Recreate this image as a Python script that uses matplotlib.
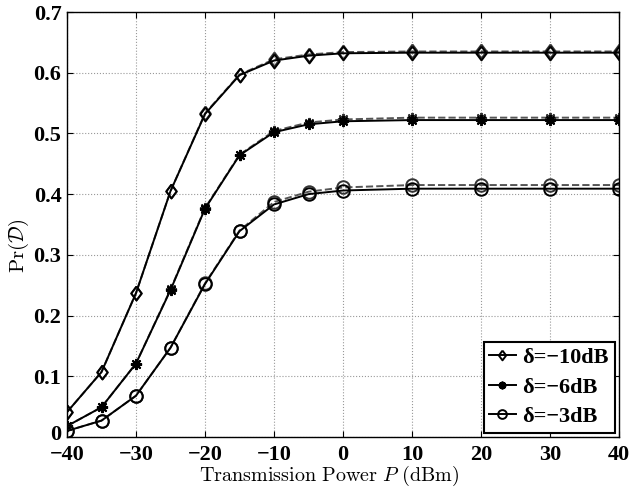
import numpy as np
import matplotlib
matplotlib.use('Agg')
import matplotlib.pyplot as plt
from matplotlib.transforms import ScaledTranslation

plt.rcParams['mathtext.fontset'] = 'cm'

x = [-40, -35, -30, -25, -20, -15, -10, -5, 0, 10, 20, 30, 40]

# simulation (solid) and analysis (dashed)
sim10 = [0.041, 0.107, 0.237, 0.405, 0.532, 0.596, 0.620, 0.628, 0.632, 0.633, 0.633, 0.633, 0.633]
ana10 = [0.041, 0.107, 0.237, 0.405, 0.533, 0.597, 0.622, 0.630, 0.634, 0.635, 0.635, 0.635, 0.635]
sim6 = [0.018, 0.049, 0.121, 0.242, 0.376, 0.464, 0.502, 0.515, 0.520, 0.522, 0.522, 0.522, 0.522]
ana6 = [0.018, 0.049, 0.121, 0.243, 0.377, 0.465, 0.504, 0.518, 0.523, 0.526, 0.526, 0.526, 0.526]
sim3 = [0.010, 0.027, 0.068, 0.147, 0.252, 0.339, 0.383, 0.400, 0.406, 0.409, 0.409, 0.409, 0.409]
ana3 = [0.010, 0.027, 0.068, 0.147, 0.253, 0.340, 0.387, 0.404, 0.411, 0.415, 0.415, 0.415, 0.415]

labels = [u'\u03b4=\u221210dB', u'\u03b4=\u22126dB', u'\u03b4=\u22123dB']
diamond = [(0, 1), (0.75, 0), (0, -1), (-0.75, 0), (0, 1)]
markers = [diamond, (8, 2, 0), 'o']
msizes = [10, 8, 9]

fig = plt.figure(figsize=(6.29, 4.91), dpi=100)
ax = fig.add_axes([67/629, 1-437/491, (619-67)/629, (437-12)/491])

for sim, ana, lab, m, ms in zip([sim10, sim6, sim3], [ana10, ana6, ana3], labels, markers, msizes):
    ax.plot(x, ana, '--', color='#555555', lw=1.4, marker=m, ms=ms,
            mfc='none', mec='#333333', mew=1.4)
    ax.plot(x, sim, '-', color='black', lw=1.4, marker=m, ms=ms,
            mfc='none', mec='black', mew=1.4, label=lab)

ax.set_xlim(-40, 40)
ax.set_ylim(0, 0.7)
ax.set_xticks(range(-40, 41, 10))
ax.set_yticks(np.arange(0, 0.71, 0.1))
ax.set_xticklabels([u'\u2212%d' % -v if v < 0 else '%d' % v for v in range(-40, 41, 10)])
ax.set_yticklabels(['0', '0.1', '0.2', '0.3', '0.4', '0.5', '0.6', '0.7'])
for t in ax.get_xticklabels() + ax.get_yticklabels():
    t.set_fontfamily('Liberation Serif')
    t.set_fontweight('bold')
    t.set_fontsize(16)
ax.tick_params(axis='x', direction='in', top=True, length=4, pad=6)
ax.tick_params(axis='y', direction='in', right=True, length=4, pad=4)
# nudge the "0" label up a little so it clears the -40 label
lbl0 = ax.yaxis.get_major_ticks()[0].label1
lbl0.set_transform(lbl0.get_transform() + ScaledTranslation(0, 3/72, fig.dpi_scale_trans))
ax.grid(True, linestyle=':', color='#999999', lw=0.8)
for s in ax.spines.values():
    s.set_linewidth(1.0)

ax.set_xlabel(r'$\mathrm{Transmission\ Power}\ P\ \mathrm{(dBm)}$', fontsize=14.5)
ax.xaxis.set_label_coords((329-67)/552, -0.064)
ax.set_ylabel(r'$\mathrm{Pr}(\mathcal{D})$', fontsize=15)
ax.yaxis.set_label_coords(-0.066, 0.45)

leg = ax.legend(loc='lower right', prop={'family': 'Liberation Serif', 'weight': 'bold', 'size': 16},
                fancybox=False, edgecolor='black', handlelength=1.2, handletextpad=0.3,
                borderpad=0.25, labelspacing=0.4, borderaxespad=0.2, framealpha=1, markerscale=0.7)
leg.get_frame().set_linewidth(1.5)

plt.savefig('out.png', dpi=100)
